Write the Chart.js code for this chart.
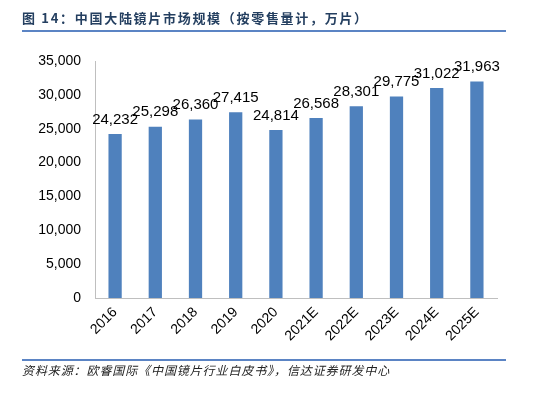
<!DOCTYPE html>
<html>
<head>
<meta charset="utf-8">
<script src="https://cdn.jsdelivr.net/npm/chart.js@4"></script>
<style>
  html, body { margin: 0; padding: 0; background: #fff; }
  #wrap { position: relative; width: 533px; height: 393px; overflow: hidden; }
  #chart { position: absolute; left: 0; top: 0; }
  .title {
    position: absolute; left: 22px; top: 8px;
    font: bold 13px "Noto Sans CJK SC", sans-serif; letter-spacing: 1.7px;
    color: #243f60; white-space: nowrap;
  }
  .rule { position: absolute; left: 22px; width: 484px; height: 2px; background: #5b84c4; }
  .source {
    position: absolute; left: 22px; top: 361px;
    font: italic 12px "Noto Sans CJK SC", sans-serif; letter-spacing: 0.9px;
    color: #222; white-space: nowrap;
  }
</style>
</head>
<body>
<div id="wrap">
  <canvas id="chart" width="533" height="393"></canvas>
  <div class="title">图 14：中国大陆镜片市场规模（按零售量计，万片）</div>
  <div class="rule" style="top:30px"></div>
  <div class="rule" style="top:359px"></div>
  <div class="source">资料来源：欧睿国际《中国镜片行业白皮书》，信达证券研发中心</div>
</div>
<script>
// ── Data ─────────────────────────────────────────────────────────
const years  = ["2016", "2017", "2018", "2019", "2020", "2021E", "2022E", "2023E", "2024E", "2025E"];
const volume = [24232, 25298, 26360, 27415, 24814, 26568, 28301, 29775, 31022, 31963];
const yMax   = 35000;
const yStep  = 5000;

// ── Value labels above bars ──────────────────────────────────────
const barLabels = {
  id: "barLabels",
  afterDatasetsDraw(chart) {
    const ctx = chart.ctx;
    const meta = chart.getDatasetMeta(0);
    ctx.save();
    ctx.font = "15px 'Liberation Sans', sans-serif";
    ctx.fillStyle = "#000";
    ctx.textAlign = "center";
    ctx.textBaseline = "bottom";
    meta.data.forEach((bar, i) => {
      ctx.fillText(volume[i].toLocaleString("en-US"), bar.x, bar.y - 7);
    });
    ctx.restore();
  }
};

const tickFont = { family: "'Liberation Sans', sans-serif", size: 14 };

new Chart(document.getElementById("chart"), {
  type: "bar",
  data: {
    labels: years,
    datasets: [{
      data: volume,
      backgroundColor: "#4f81bd",
      barPercentage: 0.33,
      categoryPercentage: 1
    }]
  },
  options: {
    responsive: false,
    animation: false,
    layout: { padding: { top: 61, right: 36, bottom: 0, left: 0 } },
    plugins: { legend: { display: false }, tooltip: { enabled: false } },
    scales: {
      x: {
        grid: { display: false, drawTicks: false },
        border: { color: "#bfbfbf" },
        ticks: { color: "#000", font: tickFont, maxRotation: 45, minRotation: 45, padding: 6 },
        afterFit(s) { s.height = 95; }
      },
      y: {
        min: 0, max: yMax,
        grid: { display: false, drawTicks: false },
        border: { color: "#bfbfbf" },
        ticks: {
          stepSize: yStep, color: "#000", font: tickFont, padding: 14,
          callback: v => v.toLocaleString("en-US")
        },
        afterFit(s) { s.width = 95; }
      }
    }
  },
  plugins: [barLabels]
});
</script>
</body>
</html>
